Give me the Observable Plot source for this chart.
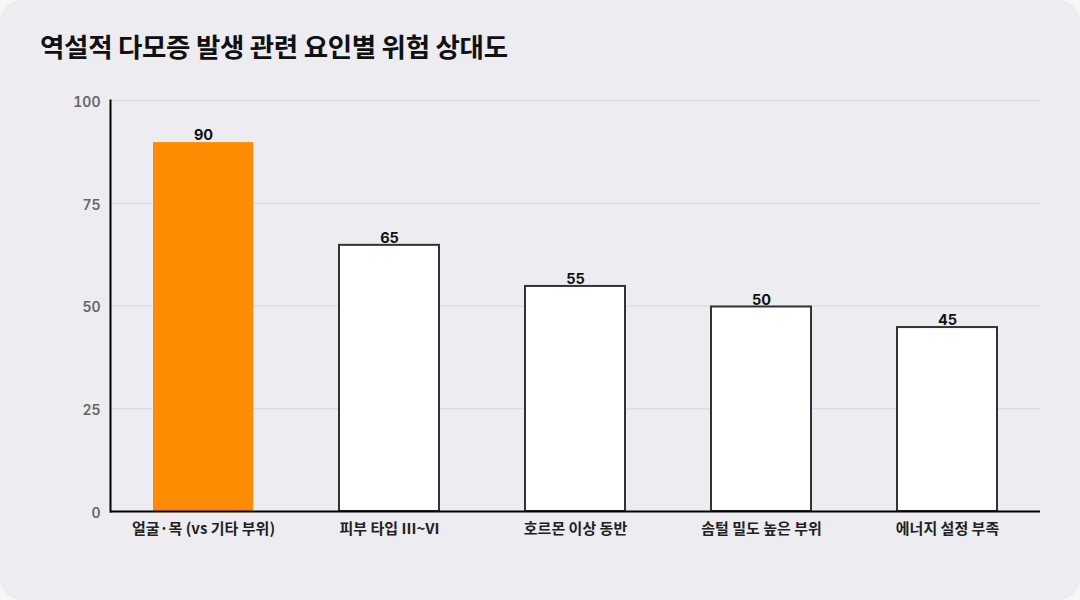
<!DOCTYPE html>
<html>
<head>
<meta charset="utf-8">
<script src="https://cdn.jsdelivr.net/npm/d3@7"></script>
<script src="https://cdn.jsdelivr.net/npm/@observablehq/plot@0.6"></script>
<style>
  html, body { margin: 0; padding: 0; background: #f7f7fa; }
  #card {
    position: relative; width: 1080px; height: 600px; background: #ececf1;
    border-radius: 22px; overflow: hidden;
    font-family: "Inter", "Noto Sans CJK KR", sans-serif;
  }
  #title {
    position: absolute; left: 40px; top: 26px; margin: 0;
    font-size: 26.5px; font-weight: 700; color: #111; letter-spacing: -0.3px;
    font-family: "Noto Sans CJK KR", "Inter", sans-serif;
  }
  #chart { position: absolute; left: 0; top: 0; }
</style>
</head>
<body>
<div id="card">
  <h1 id="title">역설적 다모증 발생 관련 요인별 위험 상대도</h1>
  <div id="chart"></div>
</div>
<script>
const categories = ["얼굴·목 (vs 기타 부위)", "피부 타입 III~VI", "호르몬 이상 동반", "솜털 밀도 높은 부위", "에너지 설정 부족"];
const values = [90, 65, 55, 50, 45];
const highlight = [true, false, false, false, false];
const yTicks = [0, 25, 50, 75, 100];

const data = categories.map((c, i) => ({category: c, value: values[i], hi: highlight[i]}));

const plot = Plot.plot({
  width: 1080,
  height: 600,
  marginLeft: 110,
  marginRight: 40,
  marginTop: 100,
  marginBottom: 89,
  style: {background: "transparent", fontFamily: "Inter, 'Noto Sans CJK KR', sans-serif"},
  x: {domain: categories, paddingInner: 0.45, paddingOuter: 0.225, label: null},
  y: {domain: [0, 100], label: null},
  marks: [
    Plot.gridY(yTicks, {stroke: "#d6d6dc", strokeOpacity: 1, strokeWidth: 1}),
    Plot.axisY(yTicks, {tickSize: 0, tickPadding: 10, dy: 2, fill: "#666", fontSize: 14, fontWeight: 600, label: null}),
    Plot.axisX({tickSize: 0, tickPadding: 12, fill: "#222", fontSize: 15, fontWeight: 700, label: null,
      fontFamily: "'Noto Sans CJK KR', Inter, sans-serif"}),
    Plot.barY(data, {
      x: "category", y: "value",
      fill: d => d.hi ? "#ff8c00" : "#ffffff",
      stroke: d => d.hi ? "none" : "#333333",
      strokeWidth: 2,
      insetLeft: 1, insetRight: 1, insetTop: 1
    }),
    Plot.text(data, {x: "category", y: "value", text: d => String(d.value), dy: -6,
      fill: "#111", fontSize: 14.5, fontWeight: 700}),
    Plot.frame({anchor: "left", stroke: "#000", strokeWidth: 2}),
    Plot.ruleY([0], {stroke: "#000", strokeWidth: 2})
  ]
});
document.getElementById("chart").appendChild(plot);
</script>
</body>
</html>
